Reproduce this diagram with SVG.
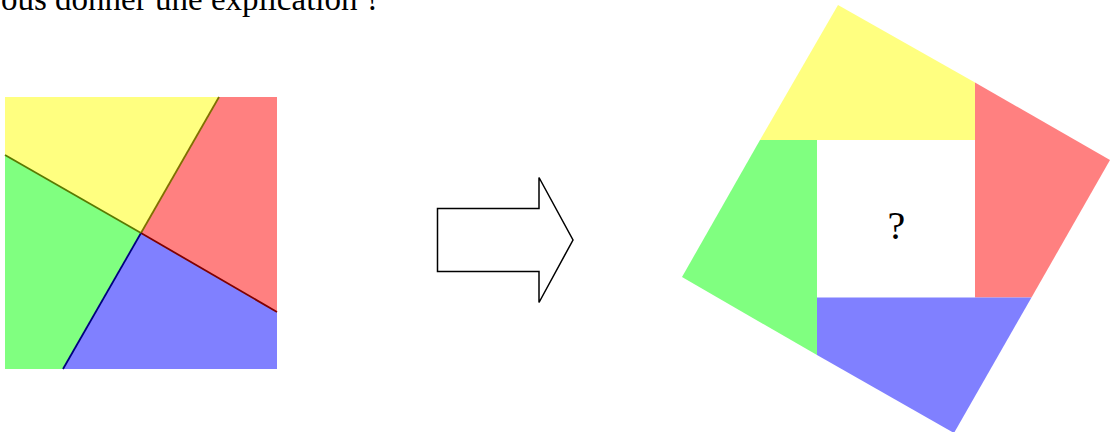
<svg xmlns="http://www.w3.org/2000/svg" width="1111" height="432" viewBox="0 0 1111 432">
<style>
.y{fill:#ffff80}.r{fill:#ff8080}.g{fill:#80ff80}.b{fill:#8080ff}
.txt{font-family:"Liberation Serif",serif;fill:#000}
</style>
<rect width="1111" height="432" fill="#fff"/>
<text class="txt" x="1" y="10" font-size="33">ous donner une explication ?</text>
<g id="square-left">
<polygon class="y" points="5,97 219,97 141,233 5,155"/>
<polygon class="r" points="219,97 277,97 277,312 141,233"/>
<polygon class="b" points="141,233 277,312 277,369 63,369"/>
<polygon class="g" points="5,155 141,233 63,369 5,369"/>
</g>
<g id="connectors" fill="none" stroke-width="1.8">
<line x1="219" y1="97" x2="141" y2="233" stroke="#807000"/>
<line x1="141" y1="233" x2="277" y2="312" stroke="#800000"/>
<line x1="141" y1="233" x2="63" y2="369" stroke="#000080"/>
<line x1="5" y1="155" x2="141" y2="233" stroke="#5a7a00"/>
</g>
<g id="arrow">
<polygon points="437.5,208.5 539,208.5 539,177.5 573,240 539,302.5 539,271.5 437.5,271.5" fill="#fff" stroke="#000" stroke-width="1.5" stroke-linejoin="miter"/>
</g>
<g id="square-right">
<polygon class="y" points="838,5 975,82.5 975,140 760,140"/>
<polygon class="r" points="975,82.5 1110,160 1031.5,297.5 975,297.5"/>
<polygon class="b" points="817,297.5 1031.5,297.5 954,433 817,355"/>
<polygon class="g" points="760,140 817,140 817,355 682,277"/>
<text class="txt" x="896.5" y="238.5" font-size="40" text-anchor="middle">?</text>
</g>
</svg>
